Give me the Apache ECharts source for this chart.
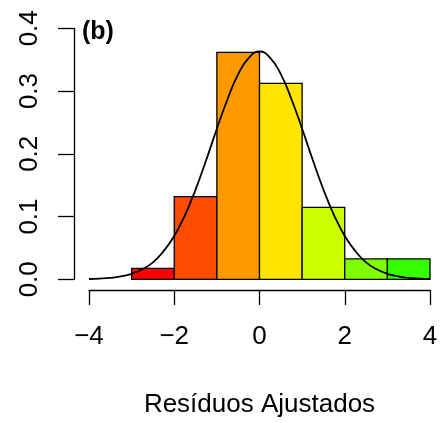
<!DOCTYPE html>
<html>
<head>
<meta charset="utf-8">
<script src="https://cdn.jsdelivr.net/npm/echarts@6/dist/echarts.min.js"></script>
<style>
  html, body { margin: 0; padding: 0; background: #fff; }
  #main { width: 441px; height: 423px; }
</style>
</head>
<body>
<div id="main"></div>
<script>
// histogram bins (residuals) and densities
var binLeft = [-3, -2, -1, 0, 1, 2, 3];
var binRight = [-2, -1, 0, 1, 2, 3, 4];
var density = [0.0175, 0.1316, 0.3617, 0.3123, 0.1147, 0.0324, 0.0324];
var barColors = ["#FF0000", "#FF4D00", "#FF9900", "#FFE500", "#CCFF00", "#80FF00", "#33FF00"];

// normal curve drawn over the histogram
var curveX = [-4, -3.75, -3.5, -3.25, -3, -2.75, -2.5, -2.25, -2, -1.75, -1.5, -1.25, -1, -0.75, -0.5, -0.25,
  0, 0.25, 0.5, 0.75, 1, 1.25, 1.5, 1.75, 2, 2.25, 2.5, 2.75, 3, 3.25, 3.5, 3.75, 4];
var curveY = [0.0005, 0.0011, 0.0023, 0.0046, 0.0088, 0.016, 0.027, 0.045, 0.069, 0.102, 0.143, 0.19, 0.24, 0.287, 0.327, 0.353,
  0.363, 0.353, 0.327, 0.287, 0.24, 0.19, 0.143, 0.102, 0.069, 0.045, 0.027, 0.016, 0.0088, 0.0046, 0.0023, 0.0011, 0.0005];

var font = "'Liberation Sans', Arial, Helvetica, sans-serif";

var barData = binLeft.map(function (l, i) { return [l, binRight[i], density[i], i]; });
var curveData = curveX.map(function (x, i) { return [x, curveY[i]]; });

var chart = echarts.init(document.getElementById("main"));
chart.setOption({
  animation: false,
  title: {
    text: "(b)",
    left: 77,
    top: 15,
    textStyle: { fontFamily: font, fontWeight: "bold", fontSize: 25, color: "#000" }
  },
  grid: { left: 89, right: 11, top: 28.3, bottom: 143.7, containLabel: false, outerBoundsMode: "none" },
  xAxis: {
    type: "value",
    min: -4, max: 4, interval: 2,
    offset: 10.7,
    name: "Resíduos Ajustados",
    nameLocation: "middle",
    nameGap: 102,
    nameTextStyle: { fontFamily: font, fontSize: 26, color: "#000" },
    axisLine: { show: true, onZero: false, lineStyle: { color: "#000", width: 1.3 } },
    axisTick: { show: true, length: 15, lineStyle: { color: "#000", width: 1.3 } },
    axisLabel: {
      margin: 34,
      fontFamily: font, fontSize: 26, color: "#000",
      formatter: function (v) { return String(v).replace("-", "\u2212"); }
    },
    splitLine: { show: false }
  },
  yAxis: {
    type: "value",
    min: 0, max: 0.4, interval: 0.1,
    offset: 15,
    axisLine: { show: true, onZero: false, lineStyle: { color: "#000", width: 1.3 } },
    axisTick: { show: true, length: 16, lineStyle: { color: "#000", width: 1.3 } },
    axisLabel: {
      rotate: 90,
      margin: 31,
      fontFamily: font, fontSize: 26, color: "#000",
      formatter: function (v) { return v.toFixed(1); }
    },
    splitLine: { show: false }
  },
  series: [
    {
      type: "custom",
      data: barData,
      renderItem: function (params, api) {
        var p0 = api.coord([api.value(0), api.value(2)]);
        var p1 = api.coord([api.value(1), 0]);
        return {
          type: "rect",
          shape: { x: p0[0], y: p0[1], width: p1[0] - p0[0], height: p1[1] - p0[1] },
          style: { fill: barColors[api.value(3)], stroke: "#000", lineWidth: 1.3 }
        };
      },
      encode: { x: [0, 1], y: 2 }
    },
    {
      type: "line",
      data: curveData,
      smooth: true,
      showSymbol: false,
      symbol: "none",
      lineStyle: { color: "#000", width: 1.8 },
      z: 5
    }
  ]
});
</script>
</body>
</html>
